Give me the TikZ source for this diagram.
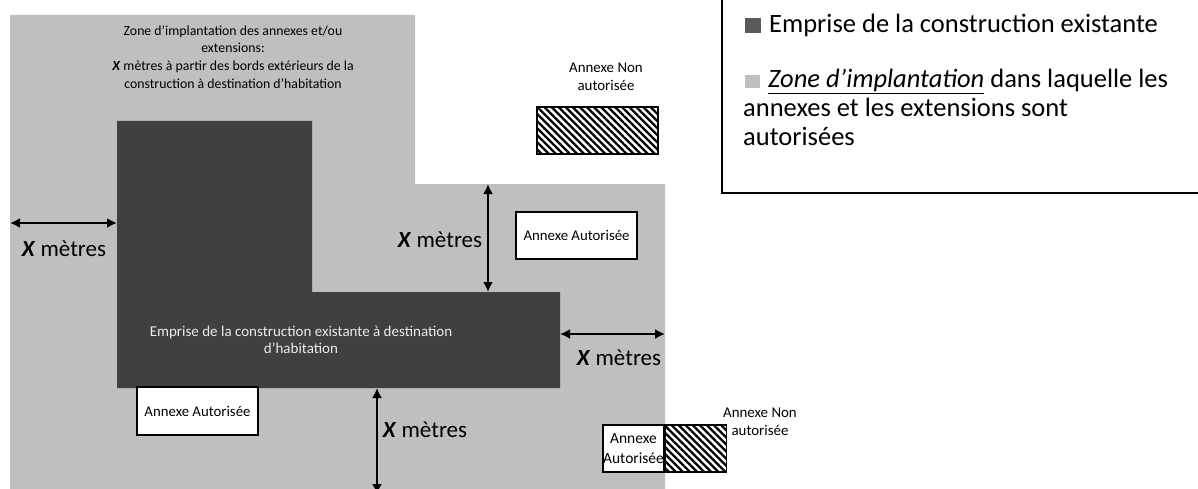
\documentclass[tikz,border=0pt]{standalone}
\usepackage{fontspec}
\setmainfont{Carlito}
\usepackage{xcolor}
\usepackage{tikz}
\usetikzlibrary{patterns.meta}
\usetikzlibrary{arrows.meta,positioning}

\definecolor{zonegris}{RGB}{191,191,191}
\definecolor{batigris}{RGB}{64,64,64}
\definecolor{carregris}{RGB}{90,90,90}

\tikzset{
    cote/.style={
        <->,
        >={Latex[length=10pt,width=10pt]},
        line width=2.6pt
    },
    annexe/.style={
        draw,
        fill=white,
        line width=1.2pt,
        inner sep=0pt,
        align=center,
        font=\fontsize{14.8}{20}\selectfont
    },
    interdite/.style={
        draw,
        line width=1.2pt,
        inner sep=0pt,
        pattern={Lines[angle=-45,distance=5pt,line width=2.3pt]}
    },
    metres/.style={
        font=\fontsize{23}{27}\selectfont
    },
    petit/.style={
        align=center,
        font=\fontsize{13.8}{17.7}\selectfont
    },
    legende/.style={
        anchor=base west,
        inner sep=0pt,
        font=\fontsize{26.5}{29}\selectfont
    }
}

\newcommand{\xmetres}{\textbf{\textit{X}} mètres}

\begin{document}
\begin{tikzpicture}[x=1pt,y=-1pt]
                \useasboundingbox (0,0) rectangle (1198,489);

                % zone d'implantation
                \fill[
                    zonegris
                    ] (10,15) -- (415,15) -- (415,184) -- (665,184)
                    -- (665,495) -- (10,495) -- cycle;

                % construction existante
                \fill[
                    batigris
                    ] (117,121) -- (312,121) -- (312,292) -- (560,292)
                    -- (560,388) -- (117,388) -- cycle;

                \node[petit] (zonetxt) at (233,57)
                    {Zone d’implantation des annexes et/ou\\extensions:\\
                     \textbf{\textit{X}} mètres à partir des bords extérieurs de la\\
                     construction à destination d’habitation};

                \node[petit, text=white!92!black, font=\fontsize{15}{17}\selectfont] (batitxt) at (301,340)
                    {Emprise de la construction existante à destination\\d’habitation};

                % annexes
                \node[annexe, minimum width=121pt, minimum height=47pt] (annA) at (576.5,235.5) {Annexe Autorisée};
                \node[annexe, minimum width=121pt, minimum height=48pt] (annB) at (197.5,411) {Annexe Autorisée};
                \node[annexe, minimum width=61pt, minimum height=47pt, font=\fontsize{15.5}{20}\selectfont] (annC) at (633.5,448.5) {Annexe\\Autorisée};

                \node[interdite, minimum width=121pt, minimum height=47pt] (nonA) at (597.5,130.5) {};
                \node[interdite, minimum width=61pt, minimum height=47pt, right=0pt of annC] (nonB) {};

                \node[petit, font=\fontsize{14.9}{18}\selectfont] (nonAtxt) at (606,77) {Annexe Non\\autorisée};
                \node[petit, font=\fontsize{14.9}{18}\selectfont] (nonBtxt) at (760,422) {Annexe Non\\autorisée};

                % cotes
                \coordinate (zoneW) at (10,223);
                \coordinate (batiW) at (117,223);
                \coordinate (zoneN) at (488,184);
                \coordinate (batiN) at (488,292);
                \coordinate (batiE) at (560,334);
                \coordinate (zoneE) at (665,334);
                \coordinate (batiS) at (377,388);
                \coordinate (zoneS) at (377,494);

                \draw[cote] (zoneW) to (batiW);
                \draw[cote] (zoneN) to (batiN);
                \draw[cote] (batiE) to (zoneE);
                \draw[cote] (batiS) to (zoneS);

                \node[metres] (xW) at (64,249) {\xmetres};
                \node[metres] (xN) at (440,240) {\xmetres};
                \node[metres] (xE) at (619,358) {\xmetres};
                \node[metres] (xS) at (425,430) {\xmetres};

                % legende
                \draw[
                    line width=1.4pt
                    ] (722,-5) rectangle (1205,193);

                \fill[carregris] (745,18) rectangle (761,33);
                \fill[zonegris] (745,75) rectangle (760,88);

                \node[legende] (leg1) at (769,33) {Emprise de la construction existante};
                \node[legende] (leg2) at (768,88) {\underline{\textit{Zone d’implantation}} dans laquelle les};
                \node[legende] (leg3) at (743,117) {annexes et les extensions sont};
                \node[legende] (leg4) at (743,146) {autorisées};

            \end{tikzpicture}
\end{document}
